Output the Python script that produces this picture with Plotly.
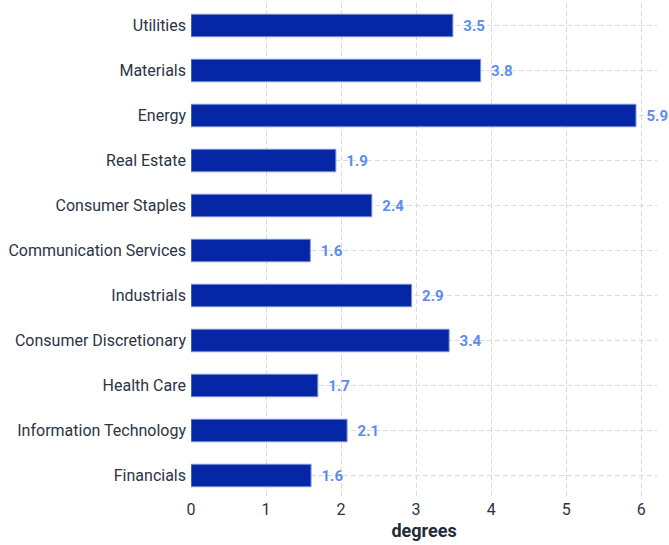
import plotly.graph_objects as go

categories = ["Financials", "Information Technology", "Health Care", "Consumer Discretionary",
              "Industrials", "Communication Services", "Consumer Staples", "Real Estate",
              "Energy", "Materials", "Utilities"]
values = [1.6, 2.08, 1.69, 3.44, 2.94, 1.59, 2.41, 1.93, 5.93, 3.86, 3.49]
value_labels = ["1.6", "2.1", "1.7", "3.4", "2.9", "1.6", "2.4", "1.9", "5.9", "3.8", "3.5"]
tick_vals = [0, 1, 2, 3, 4, 5, 6]

fig = go.Figure(go.Bar(
    x=values, y=categories, orientation="h",
    marker=dict(color="#0527a6", line=dict(color="#7f93d8", width=1)),
    width=0.5,
    text=["\u00a0\u00a0" + s for s in value_labels], textposition="outside",
    textfont=dict(family="Roboto", size=15, color="#5b8def", weight="bold"),
    cliponaxis=False,
))
fig.update_layout(
    width=669, height=545,
    margin=dict(l=191, r=12, t=3, b=47, autoexpand=False),
    plot_bgcolor="white", paper_bgcolor="white",
    font=dict(family="Roboto", size=16, color="#2b3444"),
    showlegend=False,
    bargap=0.5,
    xaxis=dict(range=[0, 6.21], tickvals=tick_vals, showgrid=True, gridcolor="#dadada",
               griddash="5px,3px", zeroline=False, showline=False,
               title=dict(text="<b>degrees</b>", font=dict(size=18, color="#222b36"), standoff=6),
               ticks="", tickfont=dict(size=16)),
    yaxis=dict(showgrid=True, gridcolor="#dadada", griddash="5px,3px", zeroline=False,
               ticks="", ticklabelstandoff=4, tickfont=dict(size=16)),
)
fig.write_html("out.html", config={"displayModeBar": False},
               post_script="document.body.style.margin='0';")
